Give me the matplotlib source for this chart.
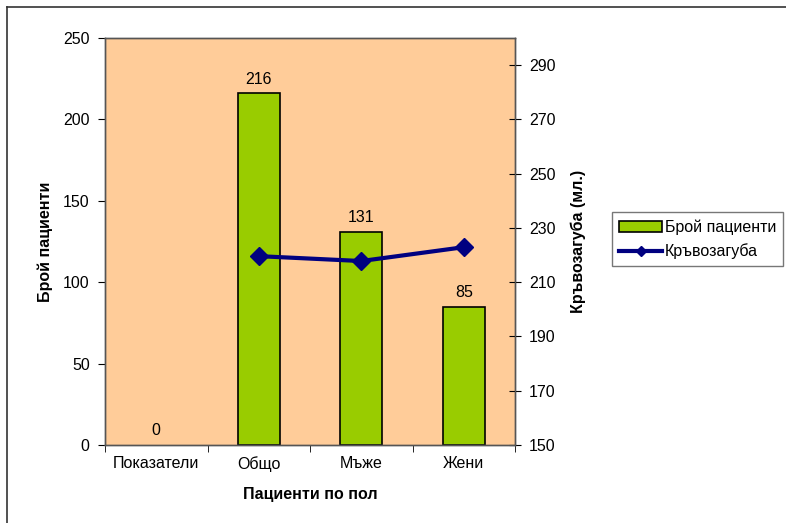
import matplotlib
matplotlib.use("Agg")
import matplotlib.pyplot as plt
from matplotlib.lines import Line2D
from matplotlib.patches import Patch
import numpy as np

plt.rcParams['font.family'] = ['Liberation Sans', 'DejaVu Sans']

categories = ["Показатели", "Общо", "Мъже", "Жени"]
patients = [0, 216, 131, 85]
blood_loss = [None, 219.6, 217.8, 222.9]
bar_name = "Брой пациенти"
line_name = "Кръвозагуба"

FS = 11.5
fig = plt.figure(figsize=(7.86, 5.23), dpi=100)
ax = fig.add_axes([105/786, 1-445/523, 410/786, 407/523])
ax.set_facecolor("#FFCC99")

x = np.arange(len(categories))
lws = [1.2 if v > 0 else 0 for v in patients]
bars = ax.bar(x, patients, width=0.41, color="#99CC00", edgecolor="black", linewidth=lws, zorder=2)
for xi, v in zip(x, patients):
    ax.text(xi, v + 4, str(v), ha="center", va="bottom", fontsize=FS)

ax.set_xlim(-0.5, len(categories) - 0.5)
ax.set_ylim(0, 250)
ax.set_yticks(np.arange(0, 251, 50))
ax.set_xticks(x)
ax.set_xticklabels(categories, fontsize=FS)
ax.set_xticks(np.arange(-0.5, len(categories), 1.0), minor=True)
ax.tick_params(axis="x", which="major", length=0, pad=8)
ax.tick_params(axis="x", which="minor", length=5, direction="out")
ax.tick_params(axis="y", labelsize=FS, length=5, direction="out", pad=6)
for s in ax.spines.values():
    s.set_color("#555555")
    s.set_linewidth(1.0)
ax.set_ylabel("Брой пациенти", fontsize=FS, fontweight="bold", labelpad=7)
ax.set_xlabel("Пациенти по пол", fontsize=FS, fontweight="bold", labelpad=11)

ax2 = ax.twinx()
ax2.set_ylim(150, 300)
ax2.set_yticks(np.arange(150, 291, 20))
ax2.tick_params(axis="y", labelsize=FS, length=8, direction="inout", pad=6)
lx = [xi for xi, v in zip(x, blood_loss) if v is not None]
ly = [v for v in blood_loss if v is not None]
ax2.plot(lx, ly, color="#000080", linewidth=3, marker="D", markersize=9, zorder=3)
ax2.set_ylabel("Кръвозагуба (мл.)", fontsize=FS, fontweight="bold", labelpad=11)
for s in ax2.spines.values():
    s.set_color("#555555")
    s.set_linewidth(1.0)

handles = [Patch(facecolor="#99CC00", edgecolor="black", linewidth=1.2),
           Line2D([0], [0], color="#000080", linewidth=3, marker="D", markersize=5)]
leg = fig.legend(handles, [bar_name, line_name], loc="upper left",
                 bbox_to_anchor=(612/786, 1-212/523), fontsize=FS,
                 frameon=True, fancybox=False, edgecolor="#555555",
                 handlelength=2.7, handletextpad=0.15, borderpad=0.45, labelspacing=0.55,
                 borderaxespad=0)
leg.get_frame().set_linewidth(1.0)

# outer chart border (top and left visible)
fig.add_artist(Line2D([7/786, 7/786], [0, 1-7/523], transform=fig.transFigure, color="#333333", linewidth=1.2))
fig.add_artist(Line2D([7/786, 1], [1-7/523, 1-7/523], transform=fig.transFigure, color="#333333", linewidth=1.2))

fig.savefig("out.png", dpi=100)
